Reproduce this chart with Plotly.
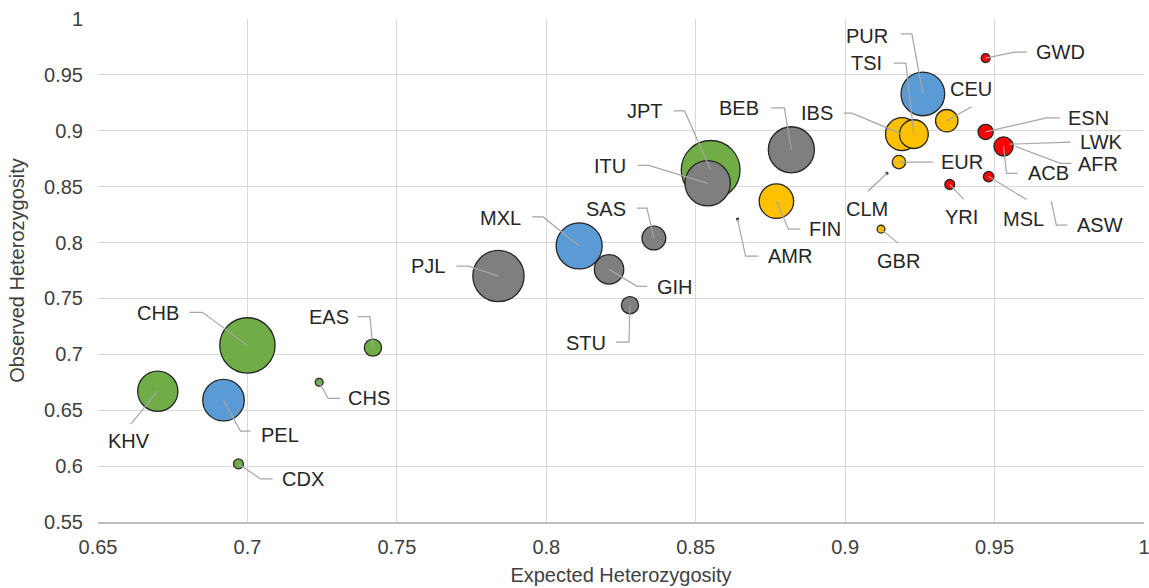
import plotly.graph_objects as go

# Population panel: expected vs observed heterozygosity, bubble area ~ sample weight
pops = ["CHB", "KHV", "CDX", "CHS", "JPT", "EAS",
        "PEL", "MXL", "PUR", "CLM", "AMR",
        "PJL", "GIH", "STU", "SAS", "ITU", "BEB",
        "FIN", "GBR", "EUR", "IBS", "TSI", "CEU",
        "GWD", "ESN", "LWK", "ACB", "AFR", "MSL", "YRI", "ASW"]
region = ["EAS"] * 6 + ["AMR"] * 5 + ["SAS"] * 6 + ["EUR"] * 6 + ["AFR"] * 8
expected_h = [0.700, 0.670, 0.697, 0.724, 0.855, 0.742,
              0.692, 0.811, 0.926, 0.914, 0.864,
              0.784, 0.821, 0.828, 0.836, 0.854, 0.882,
              0.877, 0.912, 0.918, 0.919, 0.923, 0.934,
              0.947, 0.947, 0.955, 0.953, 0.957, 0.948, 0.935, 0.969]
observed_h = [0.708, 0.667, 0.602, 0.675, 0.865, 0.706,
              0.659, 0.797, 0.933, 0.862, 0.821,
              0.770, 0.776, 0.744, 0.804, 0.853, 0.883,
              0.837, 0.812, 0.872, 0.897, 0.897, 0.909,
              0.965, 0.899, 0.888, 0.886, 0.886, 0.859, 0.852, 0.837]
bubble_size = [85, 45, 2.7, 1.7, 96, 8.2,
               48, 59, 53, 0.1, 0.1,
               73, 24, 8.2, 15.7, 57, 59,
               33, 1.7, 5, 30, 23, 14,
               2.2, 6.4, 1.2, 10.2, 0, 3, 2.7, 0]

region_order = ["EAS", "AMR", "SAS", "EUR", "AFR"]
region_color = {"EAS": "#70AD47", "AMR": "#5B9BD5", "SAS": "#7F7F7F",
                "EUR": "#FFC000", "AFR": "#FF0000"}

# Label placement: text offset and leader-line path, in pixels from the bubble centre
label_layout = {
    "CHB": ((-89, -32), [(-45, -33), (-58, -33)]),
    "KHV": ((-29, 50), [(-27, 33)]),
    "PEL": ((56, 35), [(17, 31), (27, 31)]),
    "CDX": ((65, 15), [(22, 15), (34, 15)]),
    "CHS": ((50, 16), [(9, 16), (21, 16)]),
    "EAS": ((-44, -31), [(-3, -31), (-15, -31)]),
    "JPT": ((-66, -59), [(-26, -59), (-37, -59)]),
    "ITU": ((-98, -17), [(-59, -18), (-70, -18)]),
    "SAS": ((-48, -29), [(-7, -30), (-17, -30)]),
    "MXL": ((-79, -28), [(-36, -29), (-47, -29)]),
    "PJL": ((-70, -10), [(-30, -10), (-42, -10)]),
    "GIH": ((66, 18), [(28, 17), (38, 17)]),
    "STU": ((-44, 38), [(-1, 37), (-14, 37)]),
    "BEB": ((-52, -42), [(-7, -42), (-20, -42)]),
    "AMR": ((52, 37), [(8, 37), (21, 37)]),
    "FIN": ((49, 28), [(12, 28), (24, 28)]),
    "PUR": ((-56, -58), [(-11, -60), (-22, -60)]),
    "TSI": ((-47, -71), [(-8, -71), (-20, -71)]),
    "CEU": ((24, -32), [(25, -14)]),
    "IBS": ((-85, -21), [(-50, -21), (-58, -21)]),
    "GWD": ((75, -6), [(29, -6), (41, -6)]),
    "ESN": ((103, -14), [(61, -14), (74, -14)]),
    "LWK": ((92, -2), [(50, -2), (61, -2)]),
    "AFR": ((83, 18), [(45, 17), (56, 17)]),
    "ACB": ((45, 27), [(3, 27), (14, 27)]),
    "EUR": ((63, 0), [(34, 0)]),
    "CLM": ((-20, 36), [(-19, 18)]),
    "GBR": ((17, 32), [(17, 14)]),
    "YRI": ((12, 33), [(14, 15)]),
    "MSL": ((35, 42), [(38, 23)]),
    "ASW": ((49, 24), [(5, 24), (16, 24)]),
}

FONT = "Liberation Sans, Arial, sans-serif"
W, H = 1149, 588
margin = dict(l=98, r=5, t=19, b=66)
x_range = [0.65, 1.0000001]
y_range = [0.55, 1.0000001]
px_per_x = (W - margin["l"] - margin["r"]) / (x_range[1] - x_range[0])
px_per_y = (H - margin["t"] - margin["b"]) / (y_range[1] - y_range[0])

fig = go.Figure()

# Bubbles, one trace per region so overlapping order follows the list
for reg in region_order:
    idx = [i for i, r in enumerate(region) if r == reg]
    fig.add_trace(go.Scatter(
        x=[expected_h[i] for i in idx],
        y=[observed_h[i] for i in idx],
        text=[pops[i] for i in idx],
        mode="markers",
        marker=dict(size=[bubble_size[i] for i in idx], sizemode="area",
                    sizeref=1 / 18, color=region_color[reg],
                    line=dict(color="#262626", width=1.3), opacity=1),
        hovertemplate="%{text}<br>He=%{x}<br>Ho=%{y}<extra></extra>",
        showlegend=False,
    ))

# Leader lines and labels
annotations = []
for i, name in enumerate(pops):
    (tdx, tdy), path = label_layout[name]
    xs = [expected_h[i]] + [expected_h[i] + dx / px_per_x for dx, dy in path]
    ys = [observed_h[i]] + [observed_h[i] - dy / px_per_y for dx, dy in path]
    fig.add_trace(go.Scatter(x=xs, y=ys, mode="lines",
                             line=dict(color="#A6A6A6", width=1.2),
                             hoverinfo="skip", showlegend=False))
    annotations.append(dict(x=expected_h[i], y=observed_h[i], xref="x", yref="y",
                            text=name, showarrow=False, xshift=tdx, yshift=-tdy,
                            xanchor="center", yanchor="middle",
                            font=dict(family=FONT, size=20, color="#262626")))

fig.update_layout(
    width=W, height=H, margin=margin,
    paper_bgcolor="white", plot_bgcolor="white",
    font=dict(family=FONT, size=20, color="#404040"),
    annotations=annotations,
    xaxis=dict(range=x_range, dtick=0.05, tick0=0.65, tickformat="~g",
               showgrid=True, gridcolor="#D9D9D9", gridwidth=1,
               showline=True, linecolor="#BFBFBF", linewidth=1.5,
               zeroline=False, ticks="", ticklabelstandoff=6,
               ticklabeloverflow="allow", automargin=False,
               title=dict(text="Expected Heterozygosity", standoff=11,
                          font=dict(family=FONT, size=20, color="#404040"))),
    yaxis=dict(range=y_range, dtick=0.05, tick0=0.55, tickformat="~g",
               showgrid=True, gridcolor="#D9D9D9", gridwidth=1,
               showline=False, zeroline=False, ticks="", ticklabelstandoff=14,
               automargin=False,
               title=dict(text="Observed Heterozygosity", standoff=14,
                          font=dict(family=FONT, size=20, color="#404040"))),
)

fig.write_html("out.html")
